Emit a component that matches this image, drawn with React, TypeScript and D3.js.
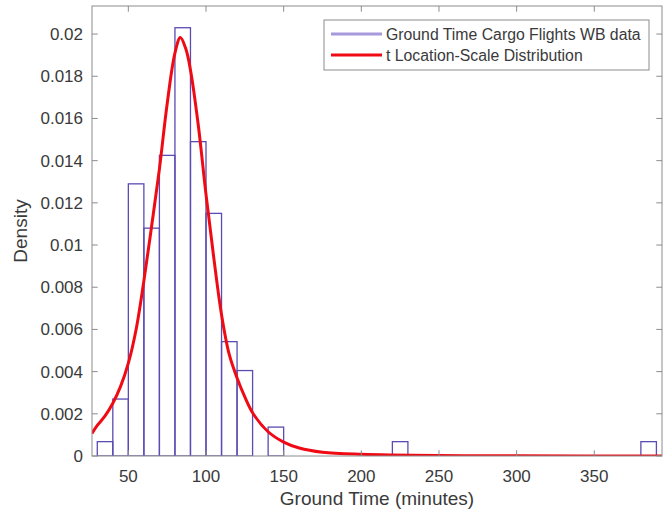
import React from "react";
import * as d3 from "d3";

// Histogram: bins of width 10 starting at 30 (density normalization)
const binStart = 30;
const binWidth = 10;
const binDensity = [
  0.00068, 0.00270, 0.01290, 0.01080, 0.01425, 0.02030, 0.01490, 0.01150,
  0.00542, 0.00405, 0, 0.00137, 0, 0, 0, 0,
  0, 0, 0, 0.00068, 0, 0, 0, 0,
  0, 0, 0, 0, 0, 0, 0, 0,
  0, 0, 0, 0.00068,
];

// Fitted t location-scale curve
const curveX = [
  26.6, 30, 35, 40, 45, 50, 55, 60, 65, 70, 75, 80, 83.5, 87, 90, 95, 100,
  105, 110, 115, 120, 125, 130, 140, 150, 160, 175, 200, 250, 300, 393.6,
];
const curveY = [
  0.00107, 0.00145, 0.0019, 0.0025, 0.0033, 0.0044, 0.006, 0.0083, 0.0109,
  0.0136, 0.0167, 0.0191, 0.01984, 0.0193, 0.0183, 0.0157, 0.0124, 0.0094,
  0.0067, 0.0048, 0.0037, 0.0028, 0.00205, 0.00115, 0.00066, 0.00038,
  0.00018, 0.00008, 0.00002, 0.00001, 0.000002,
];

const xTicks = [50, 100, 150, 200, 250, 300, 350];
const yTicks = [0, 0.002, 0.004, 0.006, 0.008, 0.01, 0.012, 0.014, 0.016, 0.018, 0.02];
const xDomain = [26.6, 393.6];
const yDomain = [0, 0.02133];

const legendLabels = ["Ground Time Cargo Flights WB data", "t Location-Scale Distribution"];
const xLabel = "Ground Time (minutes)";
const yLabel = "Density";

export default function App() {
  const W = 672, H = 514;
  const L = 92, R = 662, T = 6, B = 456;
  const x = d3.scaleLinear().domain(xDomain).range([L, R]);
  const y = d3.scaleLinear().domain(yDomain).range([B, T]);
  const font = "'Liberation Sans', Arial, Helvetica, sans-serif";
  const axisColor = "#8c8c8c";
  const textColor = "#3a3a3a";
  const tickLen = 5.7;

  const line = d3
    .line<number>()
    .x((_, i) => x(curveX[i]))
    .y((d) => y(d))
    .curve(d3.curveCatmullRom.alpha(0.5));

  const bars = binDensity.map((d, i) => {
    const x0 = binStart + i * binWidth;
    return { x0, x1: x0 + binWidth, d };
  });

  return (
    <svg
      width={W}
      height={H}
      style={{ position: "absolute", left: 0, top: 0, background: "#fff" }}
      fontFamily={font}
    >
      <rect x={0} y={0} width={W} height={H} fill="#fff" />
      <defs>
        <clipPath id="plot">
          <rect x={L} y={T} width={R - L} height={B - T} />
        </clipPath>
      </defs>
      <g clipPath="url(#plot)">
        {bars.map((b, i) => (
          <rect
            key={i}
            x={x(b.x0)}
            y={y(b.d)}
            width={x(b.x1) - x(b.x0)}
            height={B - y(b.d)}
            fill="none"
            stroke="#5a4cb2"
            strokeWidth={1.3}
          />
        ))}
        <path
          d={line(curveY) || ""}
          fill="none"
          stroke="#f00a14"
          strokeWidth={3}
          strokeLinejoin="round"
        />
      </g>
      {/* axes box */}
      <rect x={L} y={T} width={R - L} height={B - T} fill="none" stroke={axisColor} strokeWidth={1} />
      {xTicks.map((t) => (
        <g key={"x" + t}>
          <line x1={x(t)} x2={x(t)} y1={B} y2={B - tickLen} stroke={axisColor} />
          <line x1={x(t)} x2={x(t)} y1={T} y2={T + tickLen} stroke={axisColor} />
          <text x={x(t)} y={482} textAnchor="middle" fontSize={17} fill={textColor}>
            {t}
          </text>
        </g>
      ))}
      {yTicks.map((t) => (
        <g key={"y" + t}>
          <line x1={L} x2={L + tickLen} y1={y(t)} y2={y(t)} stroke={axisColor} />
          <line x1={R} x2={R - tickLen} y1={y(t)} y2={y(t)} stroke={axisColor} />
          <text x={83} y={y(t)} dy="0.35em" textAnchor="end" fontSize={17} fill={textColor}>
            {String(t)}
          </text>
        </g>
      ))}
      <text x={(L + R) / 2} y={505} textAnchor="middle" fontSize={19} fill={textColor}>
        {xLabel}
      </text>
      <text
        transform={`translate(27, ${(T + B) / 2}) rotate(-90)`}
        textAnchor="middle"
        fontSize={19}
        fill={textColor}
      >
        {yLabel}
      </text>
      {/* legend */}
      <rect x={324} y={20} width={325} height={50} fill="#fff" stroke={axisColor} strokeWidth={1} />
      <line x1={331} x2={382} y1={34} y2={34} stroke="#a898dc" strokeWidth={3} />
      <line x1={331} x2={382} y1={55} y2={55} stroke="#f00a14" strokeWidth={3} />
      <text x={386} y={34} dy="0.35em" fontSize={15.8} fill={textColor}>
        {legendLabels[0]}
      </text>
      <text x={386} y={55} dy="0.35em" fontSize={15.8} fill={textColor}>
        {legendLabels[1]}
      </text>
    </svg>
  );
}
